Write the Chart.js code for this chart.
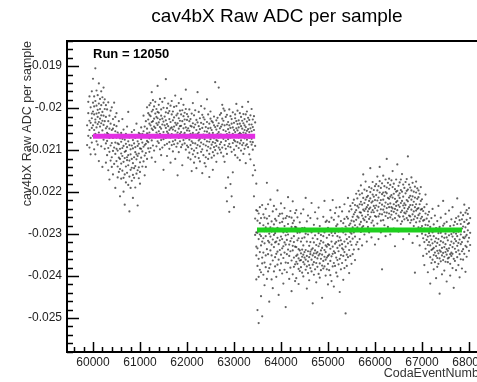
<!DOCTYPE html>
<html>
<head>
<meta charset="utf-8">
<script src="https://cdn.jsdelivr.net/npm/chart.js@4.4.1/dist/chart.umd.min.js"></script>
<style>
  html, body { margin: 0; padding: 0; background: #fff; overflow: hidden; }
  #wrap { position: relative; width: 495px; height: 382px; }
</style>
</head>
<body>
<div id="wrap"><canvas id="chart" width="495" height="382"></canvas></div>
<script>
// ============================================================
// cav4bX Raw ADC per sample vs CodaEventNumber (run 12050)
// ============================================================

// ADC values kept as positive ints in units of 1e-5  (2065 -> -0.02065)
// one inner list per column of events, a column every 25 events
const colStep = 25;

// before the step (events 59875 .. 63450)
const lowStart = 59875;
const lowCols = [
  [2041,2088],[2012,2066,1985],[2030,2094,1972,2052],[1998,2035,2071,2110],[2024,1960,2047,2082,2013],
  [1930,2008,2041,1987,2066],[2015,1972,2052,2098,1996],[1905,2027,1983,2061,2034,2110],[1994,2046,2013,1958,2079],
  [2038,1969,2004,2087,2021],[1941,2011,2058,1989,2033,2126],[2025,1978,2069,2002,2044],[1960,2017,2091,2036,1993],
  [2009,2053,1974,2030,2140],[1987,2040,2075,2018,1951],[2031,2002,2063,2097,1979],[2048,1993,2021,2084,2130],
  [2044,2078,2003,2112,2059],[1986,2062,2095,2031,2148],[2071,2018,2104,2049,2170],[2037,2089,2125,2006,2066],
  [2083,2052,1998,2117,2140],[2026,2071,2102,2158,2049],[2094,2040,2133,2068,1987],[2055,2109,2021,2082,2190],
  [2070,2126,2043,2097,2012],[2101,2058,2139,2084,2165],
  [2063,2118,2086,2152,2031],[2097,2145,2072,2121,2210],[2080,2132,2059,2108,2168],[2114,2073,2149,2095,2026],
  [2128,2090,2166,2051,2199],[2075,2119,2104,2158,2230],[2102,2061,2139,2085,2177],[2093,2154,2117,2044,2124],
  [2136,2079,2112,2183,2009],[2088,2125,2163,2070,2246],[2110,2147,2066,2098,2190],[2057,2121,2142,2089,2173],
  [2131,2096,2159,2076,2214],[2084,2117,2052,2143,2166],[2105,2138,2071,2093,2189],[2122,2067,2156,2110,2037],
  [2079,2114,2148,2090,2232],[2141,2085,2108,2167,2059],[2096,2129,2062,2152,2180],
  [2074,2118,2046,2097],[2103,2061,2139,2082],[2055,2092,2127,2018],[2088,2044,2113,2160],
  [2066,2107,2031,2085,2140],[2049,2078,2121,1998,2060],[2027,2063,2096,2012,2081],
  [2016,2058,1993,2072,2037,2104],[2041,1988,2066,2019,2095],[1962,2033,2077,2008,2049,2118],[2052,2004,2089,2031,1981],
  [2025,2068,1996,2044,2101],[2070,2013,2047,1985,2128],[2036,2091,2002,2058,2021],[1947,2024,2063,2009,2079,2040],
  [2011,2055,1992,2083,2034],[2061,2027,2098,2045,1978],[2003,2049,2076,2018,2112],[2039,1985,2066,2094,2025],
  [2074,2032,1999,2057,2147],[2020,2064,2041,1976,2088],[1931,2047,2010,2071,2029],[2056,2000,2085,2038,2114],
  [2012,2069,2043,1989,2060],[2081,2026,2052,2007,2097],[2033,1994,2070,2048,2130],[2046,2088,2015,2062,1983],
  [2008,2051,2079,2029,2103],[2067,2022,1997,2044,2086],[2035,2076,2054,1970,2121],[1995,2040,2063,2017,2092],
  [2058,2013,2084,2036,2160],[2024,2071,2049,1988,2105],[2079,2030,2006,2061,2043],[2042,1978,2057,2093,2015],
  [2005,2066,2031,2087,2136],[2063,2019,2048,1992,2076],[2038,2084,2011,2059,2027],[1956,2046,2072,2002,2099],
  [2071,2028,2053,2089,2014],
  [2048,2093,2020,2067,2118],[2075,2031,2106,2054,2003],[2026,2088,2061,2122,2042],[2097,2044,2013,2079,2150],
  [2059,2110,2036,2083,1988],[2017,2069,2101,2046,2130],[2084,2039,2063,2116,2005],[2052,2095,2028,2071,2143],
  [1962,2061,2107,2034,2088],[2043,2077,2119,2009,2058],[2091,2050,2024,2073,2127],[2035,2082,2066,2104,1995],
  [2070,2016,2098,2047,2155],[2063,2112,2038,2086,2022],[2027,2074,2055,2131,2001],[2089,2045,2117,2068,2139],
  [2056,2101,2033,2079,1979],[2015,2066,2092,2048,2121],[2080,2037,2109,2060,2164],[2047,2096,2025,2074,2008],
  [2069,2118,2052,2087,2031],[2034,2081,2059,2105,2147],[2093,2041,2072,2020,2113],[1938,2064,2100,2045,2083],
  [2051,2090,2029,2076,2128],[2078,2023,2061,2108,2042],[1951,2057,2094,2036,2070],[2086,2048,2016,2099,2063],
  [2044,2081,2012,2063,2106],[2067,2025,2094,2039,1992],[2030,2073,2052,2115,2001],[2088,2041,2006,2066,2128],
  [2055,2097,2021,2078,2190],[2016,2062,2039,2109,2222],[2074,2033,2091,2050,2165],[2041,2085,2058,2003,2247],
  [2093,2047,2019,2070,2181],[2026,2068,2104,2037,2210],[2061,2010,2083,2046,2153],[2035,2076,2099,2052,2236],
  [2079,2024,2057,2112,2015],[2048,2090,2031,2069,1990],[2006,2053,2081,2038,2118],[2070,2029,2046,2095,2062],
  [2037,2084,2012,2059,2124],[2062,2021,2077,2043,2101],[1997,2049,2088,2030,2066],[2083,2036,2058,2014,2109],
  [2041,2072,2026,2097,2052],[2015,2060,2089,2045,2131],[2075,2032,2054,2008,2086],[2050,2093,2023,2067,1985],
  [2028,2071,2110,2039,2057],[2064,2017,2080,2048,2122],[2039,2087,2055,2002,2073],[2081,2045,2027,2099,2160],
  [2052,2019,2068,2136,2210],[2090,2034,2148,2263,2302]
];

// after the step (events 63475 .. 68025)
const highStart = 63475;
const highCols = [
  [2180,2243,2296,2351,2408,2330],
  [2268,2334,2297,2376,2245,2481],[2312,2251,2359,2288,2402,2512],[2236,2301,2343,2274,2385],[2327,2262,2391,2305,2448],
  [2289,2356,2231,2318,2370,2496],[2344,2279,2310,2397,2253],[2261,2322,2368,2293,2422],[2305,2240,2351,2284,2379],
  [2336,2293,2263,2407,2178],[2275,2348,2316,2229,2389],[2320,2257,2381,2299,2461],[2284,2339,2306,2372,2218],
  [2351,2270,2325,2294,2408],[2246,2313,2363,2287,2429],[2331,2277,2302,2389,2233],[2298,2355,2264,2320,2377],
  [2268,2318,2347,2241,2402],[2342,2285,2373,2309,2196],[2257,2324,2290,2361,2445],[2315,2252,2338,2386,2273],
  [2290,2349,2227,2306,2370],[2334,2271,2312,2394,2251],[2263,2329,2357,2296,2418],[2320,2281,2344,2238,2385],
  [2303,2262,2368,2325,2474],[2348,2295,2257,2314,2391],[2276,2337,2301,2369,2212],[2325,2259,2352,2289,2407],
  [2292,2341,2317,2380,2245],[2261,2310,2363,2283,2436],[2339,2274,2328,2396,2222],[2305,2356,2268,2319,2378],
  [2283,2330,2250,2372,2412],
  [2331,2366,2284,2352,2405,2243],[2297,2349,2371,2315,2260],[2358,2310,2383,2336,2419],[2272,2339,2363,2296,2388],
  [2346,2379,2318,2251,2362],[2310,2354,2286,2392,2337],[2367,2327,2349,2241,2401],[2285,2343,2372,2308,2356],
  [2338,2299,2385,2361,2214],[2352,2318,2270,2377,2430],[2301,2365,2341,2393,2256],[2374,2328,2355,2289,2410],
  [2319,2348,2381,2262,2342],[2361,2296,2337,2389,2226],[2334,2373,2310,2351,2465],[2278,2346,2367,2320,2397],
  [2355,2303,2339,2384,2248],[2326,2369,2292,2346,2415],[2343,2312,2378,2263,2358],[2298,2351,2329,2395,2237],
  [2370,2323,2347,2281,2404],[2316,2359,2386,2302,2339],[2349,2288,2333,2375,2452],[2305,2364,2320,2259,2382],
  [2338,2377,2296,2354,2221],[2271,2327,2361,2343,2399],[2356,2309,2384,2330,2268],[2324,2352,2285,2371,2420],
  [2302,2349,2271,2386,2326],[2335,2288,2364,2243,2398],[2261,2318,2353,2297,2412],[2347,2304,2377,2330,2219],
  [2289,2341,2266,2369,2425],[2323,2376,2298,2345,2250],[2356,2281,2319,2392,2237],[2277,2333,2362,2305,2401],
  [2341,2294,2258,2372,2316],[2308,2359,2327,2236,2438],[2269,2315,2350,2293,2384],[2334,2287,2369,2246,2324],
  [2296,2352,2274,2337,2409],[2318,2264,2343,2381,2229],[2282,2330,2301,2362,2489],[2349,2259,2312,2376,2287],
  [2263,2322,2291,2355,2214],[2307,2246,2338,2279,2393],[2275,2318,2233,2352,2296],[2241,2299,2268,2326,2371],
  [2284,2226,2311,2259,2348],[2253,2296,2218,2337,2270],[2231,2279,2306,2248,2362],[2266,2204,2291,2325,2243],
  [2215,2258,2284,2233,2319],[2290,2237,2261,2197,2336],[2248,2206,2277,2312,2229],[2271,2223,2249,2295,2184],
  [2203,2256,2230,2284,2327],[2242,2281,2214,2263,2158],[2226,2194,2267,2245,2301],[2259,2218,2240,2289,2175],
  [2197,2236,2271,2212,2318],[2254,2209,2231,2283,2246],[2221,2264,2188,2240,2296],[2237,2200,2259,2215,2143],
  [2273,2225,2248,2191,2308],[2206,2243,2268,2222,2176],[2248,2195,2233,2280,2211],[2219,2257,2186,2238,2325],
  [2232,2181,2259,2207,2290],[2196,2244,2220,2163,2275],[2258,2213,2235,2186,2312],[2174,2226,2201,2252,2140],
  [2241,2190,2268,2219,2296],[2205,2253,2179,2230,2384],[2267,2218,2242,2161,2201],[2186,2234,2209,2279,2248],
  [2225,2170,2257,2200,2305],[2249,2203,2189,2238,2121],[2178,2229,2262,2214,2283],[2236,2192,2216,2251,2168],
  [2211,2260,2183,2227,2301],[2254,2207,2236,2172,2245],[2188,2239,2213,2265,2150],[2229,2180,2247,2204,2287],
  [2262,2216,2193,2240,2329],[2170,2224,2251,2199,2233],[2243,2197,2221,2268,2134],[2208,2256,2185,2231,2294],
  [2235,2177,2214,2259,2203],[2195,2248,2226,2170,2276],[2270,2221,2199,2244,2157],[2182,2232,2258,2211,2312],
  [2227,2265,2190,2238,2249],[2251,2203,2231,2176,2291],[2169,2219,2246,2197,2262],[2240,2194,2267,2222,2115],
  [2213,2256,2182,2236,2300],[2258,2209,2231,2189,2273],[2196,2242,2218,2267,2165],[2231,2178,2253,2210,2321],
  [2265,2223,2199,2246,2281],[2187,2236,2213,2258,2392],[2244,2201,2272,2229,2175],[2216,2262,2191,2240,2305],
  [2255,2212,2238,2284,2196],[2229,2270,2204,2251,2327],[2263,2221,2286,2242,2188],[2240,2281,2217,2299,2259],
  [2268,2310,2245,2291,2352],[2287,2236,2319,2266,2374],[2251,2302,2278,2335,2206],[2314,2263,2290,2347,2229],
  [2279,2326,2254,2306,2391],[2298,2342,2270,2319,2247],[2327,2283,2355,2304,2418],[2262,2313,2338,2290,2369],
  [2336,2296,2361,2322,2240],[2305,2350,2277,2333,2384],[2344,2318,2367,2293,2256],[2286,2329,2352,2310,2405],
  [2357,2321,2340,2269,2378],[2312,2346,2298,2371,2233],[2339,2283,2358,2326,2442],[2297,2342,2317,2365,2261],
  [2351,2306,2333,2288,2396],[2320,2362,2280,2345,2221],[2275,2331,2354,2309,2387],[2343,2299,2366,2324,2252],
  [2308,2349,2271,2336,2413],[2358,2315,2340,2292,2367],[2289,2334,2356,2303,2244],[2326,2281,2348,2371,2399],
  [2300,2344,2318,2265,2352],[2347,2306,2331,2381,2236],[2279,2322,2359,2296,2428],[2335,2290,2312,2364,2271],
  [2262,2317,2343,2299,2386],[2328,2276,2305,2355,2215],[2294,2339,2258,2321,2374],[2313,2267,2348,2290,2403],
  [2276,2324,2301,2360,2249],[2341,2287,2319,2265,2382],[2255,2308,2336,2282,2361],[2310,2271,2295,2347,2230],
  [2284,2328,2249,2306,2390],[2266,2302,2331,2243,2354],[2291,2252,2318,2276],[2274,2309,2238,2340],
  [2297,2262,2326]
];

// fitted levels (pol0) on each side of the step
const fitLowX = [60000, 63450];
const fitLowY = [-0.020667, -0.020667];
const fitHighX = [63490, 67850];
const fitHighY = [-0.022905, -0.022905];

const xTicks = [60000, 61000, 62000, 63000, 64000, 65000, 66000, 67000, 68000];
const xTickLabels = ['60000', '61000', '62000', '63000', '64000', '65000', '66000', '67000', '68000'];
const yTicks = [-0.025, -0.024, -0.023, -0.022, -0.021, -0.02, -0.019];
const yTickLabels = ['-0.025', '-0.024', '-0.023', '-0.022', '-0.021', '-0.02', '-0.019'];

const FONT = "'Liberation Sans', Arial, Helvetica, sans-serif";

function colsToPoints(cols, start) {
  const pts = [];
  cols.forEach((col, i) => {
    col.forEach(v => pts.push({ x: start + i * colStep, y: -v / 1e5 }));
  });
  return pts;
}

function toXY(xs, ys) {
  return xs.map((x, i) => ({ x, y: ys[i] }));
}

const points = colsToPoints(lowCols, lowStart).concat(colsToPoints(highCols, highStart));

// ROOT style frame with inward ticks
const rootFrame = {
  id: 'rootFrame',
  afterDatasetsDraw(chart) {
    const { ctx, chartArea: a, scales: { x, y } } = chart;
    ctx.save();
    ctx.strokeStyle = '#000';
    ctx.lineWidth = 1.5;
    ctx.beginPath();
    for (let v = 59600; v <= 68400; v += 200) {
      const px = Math.round(x.getPixelForValue(v)) + 0.5;
      const len = v % 1000 === 0 ? 10 : 5;
      ctx.moveTo(px, a.bottom);
      ctx.lineTo(px, a.bottom - len);
    }
    for (let k = -129; k <= -92; k++) {
      const py = Math.round(y.getPixelForValue(k * 0.0002)) + 0.5;
      const len = k % 5 === 0 ? 12 : 6;
      ctx.moveTo(a.left, py);
      ctx.lineTo(a.left + len, py);
    }
    ctx.stroke();
    ctx.lineWidth = 2;
    ctx.strokeRect(a.left, a.top, a.right - a.left, a.bottom - a.top);
    ctx.restore();
  },
  afterDraw(chart) {
    const { ctx, chartArea: a } = chart;
    ctx.save();
    ctx.fillStyle = '#000';
    ctx.textBaseline = 'middle';

    ctx.font = '19px ' + FONT;
    ctx.textAlign = 'center';
    ctx.fillText('cav4bX Raw ADC per sample', 277, 17);

    ctx.font = 'bold 13px ' + FONT;
    ctx.textAlign = 'left';
    ctx.fillText('Run = 12050', 93, 54);

    ctx.font = '12.5px ' + FONT;
    ctx.textAlign = 'right';
    ctx.fillStyle = '#333';
    ctx.fillText('CodaEventNumber', a.right, 374);

    ctx.translate(28, a.top);
    ctx.rotate(-Math.PI / 2);
    ctx.fillText('cav4bX Raw ADC per sample', 0, 0);
    ctx.restore();
  }
};

new Chart(document.getElementById('chart'), {
  type: 'scatter',
  data: {
    datasets: [
      {
        data: toXY(fitLowX, fitLowY),
        showLine: true,
        borderColor: '#e32ee3',
        borderWidth: 5,
        borderCapStyle: 'butt',
        pointRadius: 0,
        order: 0,
      },
      {
        data: toXY(fitHighX, fitHighY),
        showLine: true,
        borderColor: '#1fcf1f',
        borderWidth: 5,
        borderCapStyle: 'butt',
        pointRadius: 0,
        order: 0,
      },
      {
        data: points,
        backgroundColor: 'rgba(0,0,0,0.62)',
        borderWidth: 0,
        pointRadius: 1.1,
        order: 1,
      }
    ]
  },
  options: {
    responsive: false,
    animation: false,
    devicePixelRatio: 1,
    layout: { padding: { left: 0, right: 5, top: 41, bottom: 0 } },
    plugins: { legend: { display: false }, tooltip: { enabled: false }, title: { display: false } },
    scales: {
      x: {
        type: 'linear',
        min: 59447,
        max: 68447,
        grid: { display: false, drawTicks: false },
        border: { display: false },
        afterBuildTicks: axis => { axis.ticks = xTicks.map(v => ({ value: v })); },
        afterFit: axis => { axis.height = 30; },
        ticks: {
          autoSkip: false,
          maxRotation: 0,
          padding: 3,
          color: '#222',
          font: { family: FONT, size: 12 },
          callback: (v, i) => xTickLabels[i],
        }
      },
      y: {
        type: 'linear',
        min: -0.02581,
        max: -0.0184,
        grid: { display: false, drawTicks: false },
        border: { display: false },
        afterBuildTicks: axis => { axis.ticks = yTicks.map(v => ({ value: v })); },
        afterFit: axis => { axis.width = 67; },
        ticks: {
          autoSkip: false,
          padding: 5,
          color: '#222',
          font: { family: FONT, size: 12 },
          callback: (v, i) => yTickLabels[i],
        }
      }
    }
  },
  plugins: [rootFrame]
});
</script>
</body>
</html>
